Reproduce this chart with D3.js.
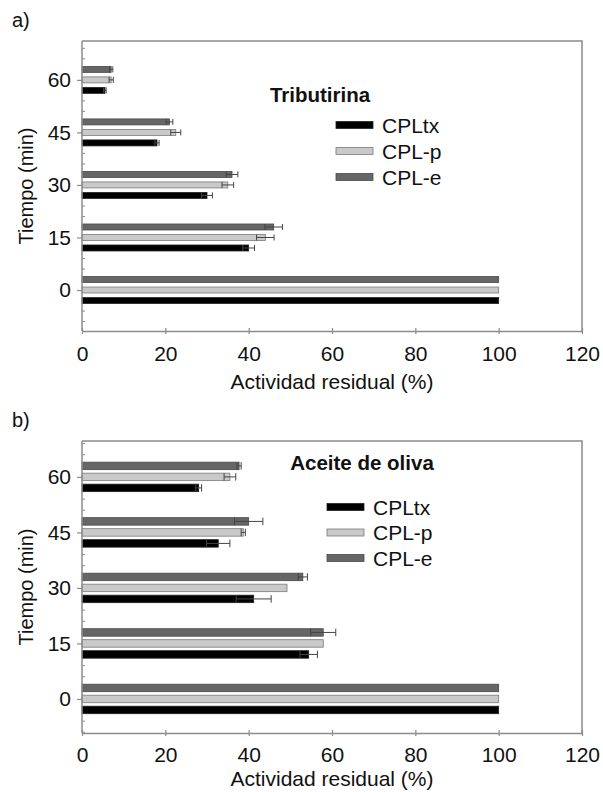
<!DOCTYPE html>
<html>
<head>
<meta charset="utf-8">
<script src="https://cdn.jsdelivr.net/npm/d3@7"></script>
<style>
  html, body { margin: 0; padding: 0; background: #fff; }
  svg text { font-family: "Liberation Sans", Arial, Helvetica, sans-serif; fill: #111; }
</style>
</head>
<body>
<svg id="chart" width="603" height="792"></svg>
<script>
// ---- Data ----
const times = [0, 15, 30, 45, 60];
const timeLabels = ["0", "15", "30", "45", "60"];
const seriesNames = ["CPLtx", "CPL-p", "CPL-e"];
const xTicks = [0, 20, 40, 60, 80, 100, 120];

// a) Tributirina
const tribCPLtx = [100, 40, 30, 18, 5.5];
const tribCPLtxErr = [0, 1.4, 1.3, 0.5, 0.3];
const tribCPLp = [100, 44, 35, 22.5, 7];
const tribCPLpErr = [0, 2.1, 1.4, 1.2, 0.5];
const tribCPLe = [100, 46, 36, 21, 7];
const tribCPLeErr = [0, 2.1, 1.4, 0.8, 0.4];

// b) Aceite de oliva
const oliveCPLtx = [100, 54.4, 41.2, 32.7, 28];
const oliveCPLtxErr = [0, 2.1, 4.2, 2.8, 0.7];
const oliveCPLp = [100, 57.9, 49.2, 38.7, 35.5];
const oliveCPLpErr = [0, 0, 0, 0.5, 1.4];
const oliveCPLe = [100, 57.9, 53, 40, 37.7];
const oliveCPLeErr = [0, 3, 1.1, 3.4, 0.5];

const styles = {
  "CPLtx": { fill: "#000000", stroke: "#222222" },
  "CPL-p": { fill: "#c9c9c9", stroke: "#7a7a7a" },
  "CPL-e": { fill: "#666666", stroke: "#4a4a4a" }
};

const svg = d3.select("#chart");

function panel(cfg) {
  const g = svg.append("g");
  const x = d3.scaleLinear().domain([0, 120]).range([cfg.left, cfg.right]);
  const y = d3.scaleLinear().domain([cfg.tMin, cfg.tMax]).range([cfg.bottom, cfg.top]);
  const off = d3.scalePoint().domain(["CPL-e", "CPL-p", "CPLtx"]).range([-cfg.pitch, cfg.pitch]);

  const data = [];
  cfg.series.forEach(s => {
    times.forEach((t, i) => {
      data.push({ name: s.name, t: t, v: s.values[i], e: s.errs[i] });
    });
  });

  // frame (top & right)
  g.append("path")
    .attr("d", `M${cfg.left},${cfg.top}H${cfg.right}V${cfg.bottom}`)
    .attr("fill", "none").attr("stroke", "#8c8c8c").attr("stroke-width", 1.5);

  // bars
  g.selectAll("rect.bar").data(data).join("rect")
    .attr("class", "bar")
    .attr("x", x(0))
    .attr("y", d => y(d.t) + off(d.name) - cfg.barH / 2)
    .attr("width", d => x(d.v) - x(0))
    .attr("height", cfg.barH)
    .attr("fill", d => styles[d.name].fill)
    .attr("stroke", d => styles[d.name].stroke)
    .attr("stroke-width", 0.8);

  // error bars
  const eb = g.selectAll("g.err").data(data.filter(d => d.e > 0)).join("g").attr("class", "err");
  eb.append("line")
    .attr("x1", d => x(d.v - d.e)).attr("x2", d => x(d.v + d.e))
    .attr("y1", d => y(d.t) + off(d.name)).attr("y2", d => y(d.t) + off(d.name))
    .attr("stroke", "#444").attr("stroke-width", 1);
  [-1, 1].forEach(sgn => {
    eb.append("line")
      .attr("x1", d => x(d.v + sgn * d.e)).attr("x2", d => x(d.v + sgn * d.e))
      .attr("y1", d => y(d.t) + off(d.name) - cfg.barH / 2)
      .attr("y2", d => y(d.t) + off(d.name) + cfg.barH / 2)
      .attr("stroke", "#444").attr("stroke-width", 1);
  });

  // x axis
  const xa = g.append("g").attr("transform", `translate(0,${cfg.bottom})`)
    .call(d3.axisBottom(x).tickValues(xTicks).tickSize(0).tickPadding(cfg.xPad).tickFormat(d3.format("d")));
  xa.select(".domain").attr("stroke", "#8c8c8c").attr("stroke-width", 1.5);
  xa.selectAll(".tick text").attr("font-size", 21).attr("fill", "#111");
  xa.selectAll(".tick").append("line")
    .attr("y1", -3).attr("y2", 3).attr("stroke", "#8c8c8c").attr("stroke-width", 1.2);

  // y axis
  const ya = g.append("g").attr("transform", `translate(${cfg.left},0)`)
    .call(d3.axisLeft(y).tickValues(times).tickFormat((d, i) => timeLabels[i]).tickSize(5).tickPadding(6));
  ya.select(".domain").attr("stroke", "#8c8c8c").attr("stroke-width", 1.5)
    .attr("d", `M0,${cfg.top}V${cfg.bottom}`);
  ya.selectAll(".tick line").attr("stroke", "#8c8c8c").attr("stroke-width", 1.2);
  ya.selectAll(".tick text").attr("font-size", 21).attr("fill", "#111");

  // minor inner ticks at category boundaries
  const minor = [];
  [-7.5].concat(times.map(t => t + 7.5)).forEach(m => { minor.push(m - 1.5, m + 1.5); });
  g.selectAll("line.minor").data(minor.filter(m => m > cfg.tMin && m < cfg.tMax)).join("line")
    .attr("class", "minor")
    .attr("x1", cfg.left).attr("x2", cfg.left + 3)
    .attr("y1", d => y(d)).attr("y2", d => y(d))
    .attr("stroke", "#8c8c8c").attr("stroke-width", 1);

  // titles
  g.append("text").attr("x", (cfg.left + cfg.right) / 2).attr("y", cfg.xTitleY)
    .attr("text-anchor", "middle").attr("font-size", 21).text("Actividad residual (%)");
  g.append("text")
    .attr("transform", `translate(${cfg.yTitleX},${(cfg.top + cfg.bottom) / 2}) rotate(-90)`)
    .attr("text-anchor", "middle").attr("font-size", 20).text("Tiempo (min)");
  g.append("text").attr("x", 12).attr("y", cfg.letterY).attr("font-size", 20).text(cfg.letter);
  g.append("text").attr("x", cfg.titleX).attr("y", cfg.titleY).attr("text-anchor", "middle")
    .attr("font-size", 20.5).attr("font-weight", "bold").text(cfg.title);

  // legend
  const lg = g.append("g");
  seriesNames.forEach((n, i) => {
    const yy = cfg.legY + i * cfg.legStep;
    lg.append("rect").attr("x", cfg.legX).attr("y", yy - 3.5).attr("width", 37).attr("height", 7)
      .attr("fill", styles[n].fill).attr("stroke", styles[n].stroke).attr("stroke-width", 0.8);
    lg.append("text").attr("x", cfg.legX + 46).attr("y", yy + 7.5).attr("font-size", 21).text(n);
  });
}

panel({
  left: 82, right: 582, top: 41, bottom: 331,
  tMin: -11.7, tMax: 71.1, pitch: 10.5, barH: 6,
  series: [
    { name: "CPLtx", values: tribCPLtx, errs: tribCPLtxErr },
    { name: "CPL-p", values: tribCPLp, errs: tribCPLpErr },
    { name: "CPL-e", values: tribCPLe, errs: tribCPLeErr }
  ],
  title: "Tributirina", titleX: 320, titleY: 102,
  letter: "a)", letterY: 27, yTitleX: 33,
  xPad: 15, xTitleY: 389,
  legX: 336, legY: 125, legStep: 26
});

panel({
  left: 82, right: 582, top: 441, bottom: 733,
  tMin: -9.2, tMax: 69.7, pitch: 11, barH: 7.5,
  series: [
    { name: "CPLtx", values: oliveCPLtx, errs: oliveCPLtxErr },
    { name: "CPL-p", values: oliveCPLp, errs: oliveCPLpErr },
    { name: "CPL-e", values: oliveCPLe, errs: oliveCPLeErr }
  ],
  title: "Aceite de oliva", titleX: 362, titleY: 470,
  letter: "b)", letterY: 427, yTitleX: 33,
  xPad: 14, xTitleY: 786,
  legX: 327, legY: 507, legStep: 25.5
});
</script>
</body>
</html>
